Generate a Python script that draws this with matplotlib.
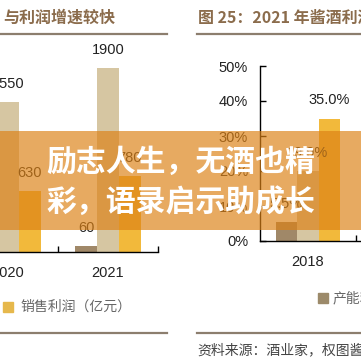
import matplotlib
matplotlib.use('Agg')
from matplotlib import pyplot as plt
from matplotlib.patches import Rectangle
from matplotlib.lines import Line2D
import numpy as np

# left chart: 销售利润 (亿元)
left_years = ['2020', '2021']
left_brown = [45, 60]
left_tan = [1550, 1900]
left_yellow = [630, 780]

# right chart: 2021 酱酒
right_years = ['2018']
right_brown = [5.5]
right_tan = [19.9]
right_yellow = [35.0]
right_ticks = [0, 10, 20, 30, 40, 50]

BROWN = '#a08868'
TAN = '#d6c6a2'
YELLOW = '#f2b93b'
CJK = ['Noto Sans CJK SC', 'DejaVu Sans']
NUM = ['Liberation Sans', 'DejaVu Sans']

W = 361.0
fig = plt.figure(figsize=(3.61, 3.61), dpi=100)
fig.patch.set_facecolor('white')


def px_axes(left, top, width, bottom):
	return fig.add_axes([left / W, (W - bottom) / W, width / W, (bottom - top) / W])


def bars(ax, vals_list, width, fmt):
	x = np.arange(len(vals_list[0]))
	offs = [-width, 0, width]
	colors = [BROWN, TAN, YELLOW]
	for vals, off, c in zip(vals_list, offs, colors):
		ax.bar(x + off, vals, width, color=c, zorder=2)
		for xi, v in zip(x, vals):
			ax.annotate(fmt(v), (xi + off, v), xytext=(0, 8), textcoords='offset points',
				ha='center', va='bottom', fontsize=10.5, family=NUM, color='#222222',
				annotation_clip=True)
	return x


def style(ax, x):
	for s in ['top', 'right', 'left']:
		ax.spines[s].set_visible(False)
	ax.spines['bottom'].set_linewidth(1.0)
	ax.set_xticks(x)
	ax.set_xticks(x + 0.5, minor=True)
	ax.tick_params(axis='x', which='major', length=0, pad=10, labelsize=10.5)
	ax.tick_params(axis='x', which='minor', direction='in', length=4.5, width=1.0)
	for t in ax.get_xticklabels():
		t.set_family(NUM)
		t.set_color('#222222')


# left chart
axl = px_axes(0, 58, 158, 252)
xl = bars(axl, [left_brown, left_tan, left_yellow], 0.22, lambda v: '%d' % v)
axl.set_xlim(-0.08, 1.5)
axl.set_ylim(0, 2000)
style(axl, xl)
axl.set_xticklabels(left_years)
axl.set_yticks([])

# right chart
axr = px_axes(260, 66, 200, 241)
xr = bars(axr, [right_brown, right_tan, right_yellow], 0.224, lambda v: '%.1f%%' % v)
axr.set_xlim(-0.5, -0.5 + 200 / 96.0)
axr.set_ylim(0, 50)
style(axr, xr)
axr.set_xticklabels(right_years)
axr.spines['left'].set_visible(True)
axr.spines['left'].set_linewidth(1.0)
axr.set_yticks(right_ticks)
axr.set_yticklabels(['%d%%' % t for t in right_ticks])
axr.tick_params(axis='y', direction='in', length=4.5, width=1.0, pad=8.5, labelsize=10.5)
for t in axr.get_yticklabels():
	t.set_family(NUM)
	t.set_color('#222222')

# titles, rules, legends, source
fig.text(3 / W, 1 - 18 / W, '与利润增速较快', family=CJK, fontsize=11.5, weight='bold',
	color='#8b6c4c', va='center', ha='left')
fig.text(198 / W, 1 - 18 / W, '图 25：2021 年酱酒利润', family=CJK, fontsize=11.5, weight='bold',
	color='#8b6c4c', va='center', ha='left')
for x0, x1 in [(0, 167), (197, 361)]:
	for yy in [34, 333]:
		fig.add_artist(Line2D([x0 / W, x1 / W], [1 - yy / W, 1 - yy / W], color='#8c7e6e', lw=1.6))

fig.add_artist(Rectangle((3 / W, 1 - 312 / W), 10 / W, 10 / W, color='#e6b84c', transform=fig.transFigure))
fig.text(20 / W, 1 - 307 / W, '销售利润（亿元）', family=CJK, fontsize=10, color='#666666',
	va='center', ha='left')
fig.add_artist(Rectangle((318 / W, 1 - 303 / W), 10 / W, 10 / W, color='#9c8a6a', transform=fig.transFigure))
fig.text(333 / W, 1 - 298 / W, '产能利用率', family=CJK, fontsize=10, color='#666666',
	va='center', ha='left')
fig.text(197 / W, 1 - 350 / W, '资料来源：酒业家，权图酱酒', family=CJK, fontsize=10, color='#444444',
	va='center', ha='left')

# orange banner over everything
fig.add_artist(Rectangle((0, 1 - 230 / W), 1, 99 / W, facecolor='#dc8216', alpha=0.68,
	edgecolor='none', transform=fig.transFigure, zorder=10))
fig.text(0.5, 1 - 162 / W, '励志人生，无酒也精', family=CJK, fontsize=21.5, weight='black',
	color='white', ha='center', va='center', zorder=11)
fig.text(0.5, 1 - 202 / W, '彩，语录启示助成长', family=CJK, fontsize=21.5, weight='black',
	color='white', ha='center', va='center', zorder=11)

fig.savefig('out.png', dpi=100, facecolor='white')
plt.close()
